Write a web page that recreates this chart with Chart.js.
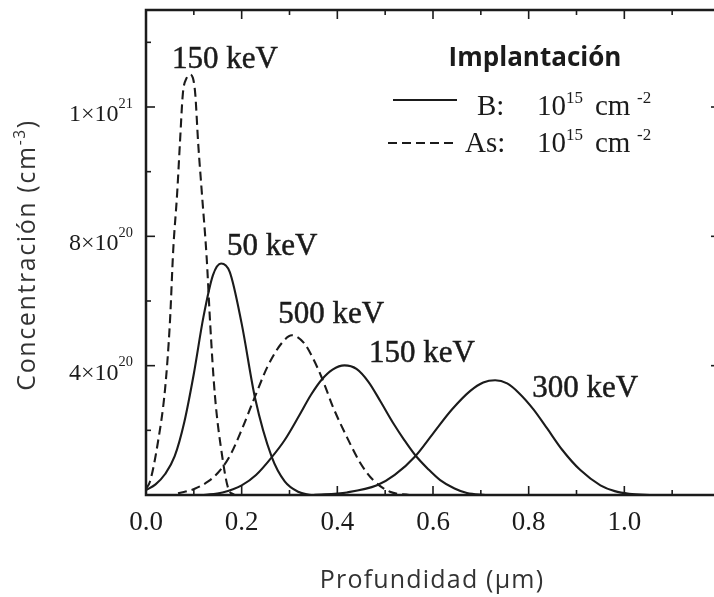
<!DOCTYPE html>
<html>
<head>
<meta charset="utf-8">
<style>
  html, body { margin: 0; padding: 0; background: #fff; overflow: hidden; }
  #wrap { width: 722px; height: 597px; }
</style>
</head>
<body>
<div id="wrap"><canvas id="profileChart" width="722" height="597"></canvas></div>
<script src="https://cdn.jsdelivr.net/npm/chart.js"></script>
<script>
// depth in µm, concentration in units of 1e20 cm^-3
const b50Depth = [0.0, 0.02, 0.04, 0.06, 0.08, 0.10, 0.12, 0.14, 0.157, 0.175, 0.20, 0.228, 0.263, 0.29, 0.318, 0.345];
const b50Conc  = [0.15, 0.33, 0.65, 1.2, 2.25, 3.75, 5.5, 6.8, 7.16, 6.9, 5.3, 3.0, 1.17, 0.42, 0.10, 0.0];

const b150Depth = [0.12, 0.16, 0.20, 0.23, 0.263, 0.29, 0.32, 0.345, 0.368, 0.39, 0.415, 0.44, 0.465, 0.49, 0.517, 0.54, 0.563, 0.59, 0.615, 0.645, 0.671, 0.71];
const b150Conc  = [0.0, 0.08, 0.30, 0.62, 1.17, 1.7, 2.45, 3.1, 3.58, 3.88, 4.01, 3.9, 3.5, 2.9, 2.22, 1.7, 1.23, 0.8, 0.46, 0.2, 0.06, 0.0];

const b300Depth = [0.35, 0.42, 0.483, 0.52, 0.563, 0.60, 0.64, 0.678, 0.705, 0.73, 0.755, 0.78, 0.81, 0.839, 0.87, 0.908, 0.95, 0.98, 1.01, 1.06];
const b300Conc  = [0.0, 0.08, 0.30, 0.62, 1.2, 1.9, 2.65, 3.22, 3.48, 3.55, 3.45, 3.15, 2.65, 2.05, 1.4, 0.77, 0.30, 0.12, 0.04, 0.0];

const as150Depth = [0.0, 0.008, 0.025, 0.040, 0.050, 0.057, 0.065, 0.071, 0.077, 0.085, 0.092, 0.098, 0.103, 0.109, 0.117, 0.127, 0.134, 0.144, 0.159, 0.172, 0.185];
const as150Conc  = [0.2, 0.4, 1.64, 3.3, 5.34, 7.6, 9.3, 10.9, 12.4, 12.9, 13.0, 12.9, 12.4, 10.9, 9.3, 7.3, 5.34, 3.09, 1.23, 0.2, 0.0];

const as500Depth = [0.067, 0.103, 0.13, 0.15, 0.175, 0.201, 0.228, 0.255, 0.285, 0.305, 0.331, 0.349, 0.368, 0.391, 0.42, 0.448, 0.475, 0.51, 0.55];
const as500Conc  = [0.05, 0.2, 0.42, 0.68, 1.2, 2.05, 3.05, 4.0, 4.72, 4.94, 4.69, 4.23, 3.61, 2.72, 1.79, 0.99, 0.46, 0.10, 0.0];

const xTickValues = [0, 0.2, 0.4, 0.6, 0.8, 1.0];
const xTickLabels = ['0.0', '0.2', '0.4', '0.6', '0.8', '1.0'];
const yTickValues = [4, 8, 12];
const yTickMantissa = ['4×10', '8×10', '1×10'];
const yTickExponent = ['20', '20', '21'];

const energyLabels = ['150 keV', '50 keV', '500 keV', '150 keV', '300 keV'];
// where each energy label is centred (depth, concentration at the baseline)
const energyLabelAt = [[0.165, 13.2], [0.264, 7.41], [0.387, 5.31], [0.577, 4.10], [0.918, 3.02]];

const INK = '#1b1b1b';
const DASH = [9, 5];
const SERIF = '"Liberation Serif", serif';
const SANS = '"Open Sans", sans-serif';

function pts(xs, ys) {
  return xs.map((x, i) => ({ x: x, y: ys[i] }));
}

function curve(label, xs, ys, dashed) {
  return {
    label: label,
    data: pts(xs, ys),
    showLine: true,
    borderColor: INK,
    borderWidth: 2.1,
    borderDash: dashed ? DASH : [],
    pointRadius: 0,
    cubicInterpolationMode: 'monotone',
    fill: false
  };
}

function line(ctx, x1, y1, x2, y2) {
  ctx.beginPath();
  ctx.moveTo(x1, y1);
  ctx.lineTo(x2, y2);
  ctx.stroke();
}

// runs: [[text, isSuperscript], ...]; returns total width
function drawRuns(ctx, x, y, runs, size, family, supScale, supRise, measureOnly) {
  let cx = x;
  runs.forEach(([t, sup]) => {
    ctx.font = (sup ? size * supScale : size) + 'px ' + family;
    if (!measureOnly) ctx.fillText(t, cx, sup ? y - size * supRise : y);
    cx += ctx.measureText(t).width;
  });
  return cx - x;
}

const decorations = {
  id: 'decorations',
  afterDatasetsDraw(chart) {
    const { ctx, chartArea: a, scales: { x, y } } = chart;
    ctx.save();
    ctx.strokeStyle = INK;
    ctx.fillStyle = INK;
    ctx.textAlign = 'left';
    ctx.textBaseline = 'alphabetic';

    // inward ticks on all four sides
    ctx.lineWidth = 1.6;
    for (let i = 0; i <= 12; i++) {
      const px = x.getPixelForValue(i / 10);
      const len = i % 2 === 0 ? 9 : 5;
      line(ctx, px, a.bottom, px, a.bottom - len);
      line(ctx, px, a.top, px, a.top + len);
    }
    for (let v = 2; v <= 14; v += 2) {
      const py = y.getPixelForValue(v);
      const len = v % 4 === 0 ? 9 : 5;
      line(ctx, a.left, py, a.left + len, py);
      line(ctx, a.right, py, a.right - len, py);
    }

    // frame
    ctx.lineWidth = 2.5;
    ctx.strokeRect(a.left, a.top, a.right - a.left, a.bottom - a.top);

    // y tick labels with superscript exponents
    yTickValues.forEach((v, i) => {
      const runs = [[yTickMantissa[i], false], [yTickExponent[i], true]];
      const w = drawRuns(ctx, 0, 0, runs, 24, SERIF, 0.6, 0.55, true);
      drawRuns(ctx, a.left - 13 - w, y.getPixelForValue(v) + 14, runs, 24, SERIF, 0.6, 0.55);
    });

    // energy labels
    ctx.textAlign = 'center';
    ctx.font = '31px ' + SERIF;
    ctx.lineWidth = 0.5;
    energyLabels.forEach((t, i) => {
      const [dx, dy] = energyLabelAt[i];
      const px = x.getPixelForValue(dx), py = y.getPixelForValue(dy);
      ctx.fillText(t, px, py);
      ctx.strokeText(t, px, py);
    });

    // legend
    const lx = a.left, ly = a.top;
    ctx.font = 'bold 26px ' + SANS;
    ctx.fillText('Implantación', lx + 389, ly + 56);

    ctx.textAlign = 'left';
    ctx.lineWidth = 2.1;
    line(ctx, lx + 247, ly + 90, lx + 311, ly + 90);
    ctx.setLineDash(DASH);
    line(ctx, lx + 242, ly + 133, lx + 311, ly + 133);
    ctx.setLineDash([]);

    [[ly + 105, 'B:', 331], [ly + 142, 'As:', 319]].forEach(([by, name, nx]) => {
      ctx.font = '29px ' + SERIF;
      ctx.fillText(name, lx + nx, by);
      ctx.fillText('10', lx + 391, by);
      ctx.fillText('cm', lx + 449, by);
      ctx.font = '17px ' + SERIF;
      ctx.fillText('15', lx + 420, by - 12);
      ctx.fillText('-2', lx + 491, by - 12);
    });

    // axis titles
    ctx.fillStyle = '#333';
    ctx.letterSpacing = '1.2px';
    ctx.font = '25px ' + SANS;
    ctx.textAlign = 'center';
    ctx.fillText('Profundidad (µm)', (a.left + 720) / 2 - 1, 588);

    ctx.textAlign = 'left';
    ctx.letterSpacing = '1.6px';
    const yRuns = [['Concentración (cm', false], ['-3', true], [')', false]];
    const tw = drawRuns(ctx, 0, 0, yRuns, 25, SANS, 0.62, 0.42, true);
    ctx.translate(35, 255);
    ctx.rotate(-Math.PI / 2);
    drawRuns(ctx, -tw / 2, 0, yRuns, 25, SANS, 0.62, 0.42);

    ctx.restore();
  }
};

new Chart(document.getElementById('profileChart').getContext('2d'), {
  type: 'scatter',
  data: {
    datasets: [
      curve('B 50 keV', b50Depth, b50Conc, false),
      curve('B 150 keV', b150Depth, b150Conc, false),
      curve('B 300 keV', b300Depth, b300Conc, false),
      curve('As 150 keV', as150Depth, as150Conc, true),
      curve('As 500 keV', as500Depth, as500Conc, true)
    ]
  },
  options: {
    responsive: false,
    animation: false,
    layout: { padding: { top: 10, right: 2, left: 0, bottom: 0 } },
    plugins: { legend: { display: false }, tooltip: { enabled: false } },
    scales: {
      x: {
        type: 'linear',
        min: 0,
        max: 1.2,
        grid: { display: false, drawTicks: false },
        border: { display: false },
        afterBuildTicks: s => { s.ticks = xTickValues.map(v => ({ value: v })); },
        afterFit: s => { s.height = 102; s.paddingLeft = 0; s.paddingRight = 0; },
        ticks: {
          padding: 12,
          color: INK,
          maxRotation: 0,
          font: { family: SERIF, size: 27 },
          callback: (v, i) => xTickLabels[i]
        }
      },
      y: {
        type: 'linear',
        min: 0,
        max: 15,
        grid: { display: false, drawTicks: false },
        border: { display: false },
        afterBuildTicks: s => { s.ticks = yTickValues.map(v => ({ value: v })); },
        afterFit: s => { s.width = 146; s.paddingTop = 0; s.paddingBottom = 0; },
        ticks: { display: false }
      }
    }
  },
  plugins: [decorations]
});
</script>
</body>
</html>
